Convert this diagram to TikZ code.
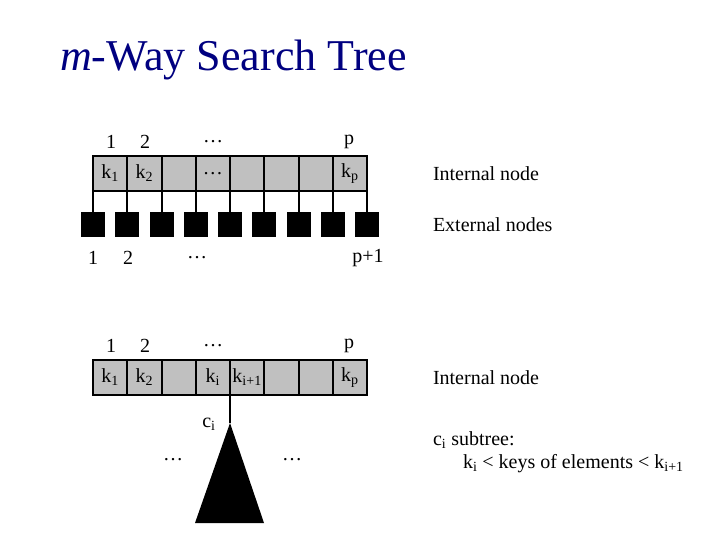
\documentclass[tikz,border=0pt]{standalone}
\usepackage{fontspec}
\setmainfont{Liberation Serif}
\definecolor{titleblue}{RGB}{0,0,128}
\definecolor{cellgray}{RGB}{192,192,192}
\newcommand{\kk}[1]{k\textsubscript{#1}}
\begin{document}
\begin{tikzpicture}[x=1pt,y=-1pt,every node/.style={inner sep=0pt,outer sep=0pt,font=\fontsize{20}{24}\selectfont},
  keycell/.style={draw,fill=cellgray,line width=2pt,minimum width=34.25pt,minimum height=35pt},
  extnode/.style={fill=black,minimum width=24pt,minimum height=25pt},
  lbl/.style={anchor=center},
  txt/.style={anchor=west}]
\useasboundingbox (0,0) rectangle (720,540);
\node[anchor=west,text=titleblue,font=\fontsize{44}{52}\selectfont] (title) at (60,60) {\textit{m}-Way Search Tree};
% internal node with external nodes
\foreach \i/\t in {1/\kk{1},2/\kk{2},3/,4/\ldots,5/,6/,7/,8/\kk{p}}
  \node[keycell] (a\i) at ({93+34.25*(\i-0.5)},173.5) {\t};
\foreach \j in {0,...,8}{
  \node[extnode] (e\j) at ({93+34.25*\j},224.5) {};
  \draw[line width=2pt] (e\j.north) -- (e\j.north |- a1.south);
}
\node[lbl] (t1) at (111,142) {1};
\node[lbl] (t2) at (145,142) {2};
\node[lbl] (t3) at (213,142) {\ldots};
\node[lbl] (tp) at (349,142) {p};
\node[lbl] (u1) at (93,258) {1};
\node[lbl] (u2) at (128,258) {2};
\node[lbl] (u3) at (197,258) {\ldots};
\node[lbl] (up) at (368,258) {p+1};
\node[txt] (int1) at (433,174) {Internal node};
\node[txt] (ext) at (433,225) {External nodes};
% internal node with subtree c_i
\foreach \i/\t in {1/\kk{1},2/\kk{2},3/,4/\kk{i},5/\kk{i+1},6/,7/,8/\kk{p}}
  \node[keycell] (b\i) at ({93+34.25*(\i-0.5)},377.5) {\t};
\node[lbl] (s1) at (111,346) {1};
\node[lbl] (s2) at (145,346) {2};
\node[lbl] (s3) at (213,346) {\ldots};
\node[lbl] (sp) at (349,346) {p};
\coordinate (apex) at (230,423);
\fill (apex) -- (195,523) -- (264,523) -- cycle;
\draw[line width=2pt] (b4.south east) -- (apex);
\node[lbl] (ci) at (209,424) {c\textsubscript{i}};
\node[lbl] (d1) at (173,460) {\ldots};
\node[lbl] (d2) at (292,460) {\ldots};
\node[txt] (int2) at (433,378) {Internal node};
\node[txt] (sub) at (433,440) {c\textsubscript{i} subtree:};
\node[txt] (keys) at (463,464) {\kk{i} < keys of elements < \kk{i+1}};
\end{tikzpicture}
\end{document}
